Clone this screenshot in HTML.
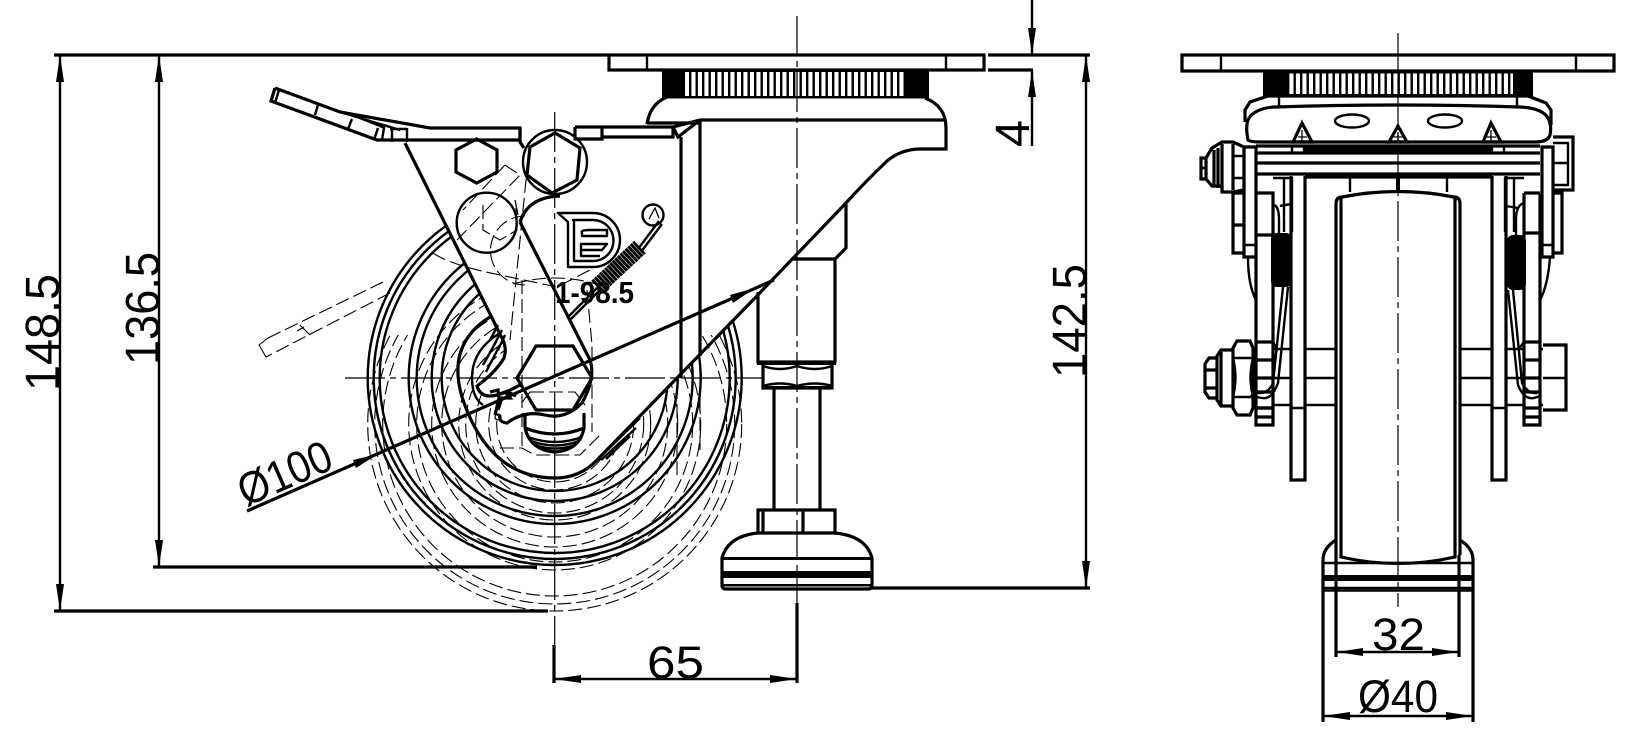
<!DOCTYPE html>
<html><head><meta charset="utf-8"><style>
html,body{margin:0;padding:0;background:#fff;width:1636px;height:746px;overflow:hidden}
svg{display:block}
text{font-family:"Liberation Sans",sans-serif;fill:#000}
.m{fill:none;stroke:#000;stroke-width:2.4;stroke-linejoin:round}
.t{fill:none;stroke:#000;stroke-width:3.2;stroke-linejoin:miter}
.s{fill:none;stroke:#000;stroke-width:1.3}
.d{fill:none;stroke:#000;stroke-width:1.1;stroke-dasharray:14 5}
.c{fill:none;stroke:#000;stroke-width:1.2;stroke-dasharray:40 5 6 5}
.k{fill:#000;stroke:none}
</style></head><body>
<svg width="1636" height="746" viewBox="0 0 1636 746" xmlns="http://www.w3.org/2000/svg">
<defs>
<pattern id="kn" width="6.5" height="10" patternUnits="userSpaceOnUse"><rect width="2.4" height="10" fill="#000"/></pattern>
<clipPath id="cb"><rect x="300" y="335" width="500" height="300"/></clipPath>
<clipPath id="ci"><path clip-rule="evenodd" d="M300 285H800V625H300ZM405 143L503 340L505 357L477 387L500 417L530 465L597 460L753 300L800 250H960V72H405Z"/></clipPath>
</defs>

<!-- wheel solid -->
<g class="m">
<circle cx="554.7" cy="378" r="187"/><circle cx="554.7" cy="378" r="181"/><circle cx="554.7" cy="378" r="175"/>
<circle cx="554.7" cy="378" r="146"/><circle cx="554.7" cy="378" r="138"/><circle cx="554.7" cy="378" r="123"/><circle cx="554.7" cy="378" r="113"/>
</g>
<!-- mask -->
<polygon points="405,143 503,340 505,357 477,387 500,417 530,465 597,460 753,300 800,250 960,250 960,72 405,72" fill="#fff"/>

<!-- hidden lines -->
<g clip-path="url(#cb)">
<circle class="d" cx="554.7" cy="424" r="187"/><circle class="d" cx="554.7" cy="424" r="180"/><circle class="d" cx="554.7" cy="424" r="172"/>
</g>
<g clip-path="url(#ci)">
<circle class="d" cx="554.7" cy="424" r="146"/><circle class="d" cx="554.7" cy="424" r="138"/><circle class="d" cx="554.7" cy="424" r="123"/><circle class="d" cx="554.7" cy="424" r="113"/>
<circle class="d" cx="554.7" cy="424" r="96"/><circle class="d" cx="554.7" cy="424" r="89"/><circle class="d" cx="554.7" cy="424" r="79"/><circle class="d" cx="554.7" cy="424" r="66"/><circle class="d" cx="554.7" cy="424" r="58"/>
</g>
<g class="d">
<path d="M383 282L268 338M390 293L266 357M259 345L266 357M259 345L268 338"/>
<path d="M300 325L310 335M297 331L304 327" stroke-dasharray="none"/>
<path d="M505 165L520 175L457 240M505 165L463 210"/>
<path d="M483 205V230L500 240L517 230L516 208"/>
<path d="M433 253Q450 265 500 275L557 287L590 270"/>
<path d="M522 280V448M587 290L592 345V432"/>
<path d="M525 216A32 32 0 0 0 525 285"/>
<path d="M528 160L510 340M500 448H522L535 455H580L600 435"/>
<path d="M530 392H575L585 405M530 392L520 405"/>
<path d="M677 385V480M700 360V455"/>
</g>
<path class="m" d="M597 460L640 418M601 460L636 428M606 459L630 436"/>

<!-- center lines -->
<path class="c" d="M797 16V603"/>
<path class="c" d="M554.7 112V645"/>
<path class="c" d="M345 378H763"/>

<!-- plate -->
<rect x="609" y="55" width="375" height="15" class="t" fill="#fff"/>
<path class="m" d="M647 55V70M946 55V70"/>
<!-- knurl -->
<rect x="662" y="71" width="267" height="26" fill="url(#kn)"/>
<rect x="662" y="71" width="23" height="26" class="k"/>
<rect x="905" y="71" width="24" height="26" class="k"/>
<rect x="662" y="70" width="267" height="2" class="k"/>
<rect x="662" y="96" width="267" height="2.5" class="k"/>

<!-- head / bracket -->
<path class="t" d="M647 124Q650 104 667 97M925 98Q946 106 946 128V149H918Q900 150 887 161Q865 182 845 204L753 300L597 460"/>
<path class="t" d="M647 123H700M700 120H946"/>
<path class="t" d="M846 204V248L835 259H793"/>
<path class="t" d="M575 127H673V137H602M575 127V139H602V127M673 127L700 120L678 137L673 127"/>
<path class="t" d="M681 137V378M700 120V356"/>

<!-- stem -->
<path class="t" d="M758 292V362H835V259"/>
<rect x="757" y="361" width="79" height="4" class="k"/>
<path class="t" d="M763 365V388H832V365"/>
<path class="m" d="M763 366Q780 372 797 366Q815 372 832 366M763 386Q780 381 797 386Q815 381 832 386"/>
<rect x="762" y="386" width="71" height="3" class="k"/>
<path class="t" d="M774 388V510M820 388V510"/>
<path class="t" d="M758 532V510H835V532M763 510V532M803 510V532"/>
<path class="t" d="M722 558Q728 536 758 533H835Q866 536 872 558V585Q872 589 868 589H726Q722 589 722 585Z" fill="#fff"/>
<rect x="722" y="557" width="150" height="3" class="k"/>
<rect x="722" y="571" width="150" height="7" class="k"/>
<rect x="722" y="584" width="150" height="2.5" class="k"/>

<!-- pedal and arm -->
<path class="t" d="M275 88L271 101L377 140H520V128H430L340 112L275 88"/>
<path class="m" d="M279 90L275 103M318 105L315 115M352 119L348 129"/>
<path class="m" d="M340 112L400 130M350 114L385 128M378 128L374 140M384 128L382 140M392 130V142M407 128V142M390 129H407"/>
<path class="t" d="M405 143L503 340Q507 350 504 358Q495 373 477 386Q480 396 490 396Q500 396 520 385"/>
<path class="t" d="M520 222L590 360Q596 378 582 403Q565 420 545 415Q525 410 507 423Q498 422 500 415"/>
<path class="m" d="M490 340L498 325M494 345L502 330M498 350L505 335M486 372L500 345M483 365L497 340"/>
<path class="t" d="M490 317Q445 345 463 400Q490 478 555 478Q580 478 597 460"/>
<path class="m" d="M500 333Q472 350 472 378Q472 398 483 405"/>
<!-- hexes -->
<polygon class="t" points="476.7,139 497,150 497,172 476.7,183 456,172 456,150"/>
<polygon class="t" points="555,133 580,148 577,180 552,193 527,175 530,147"/>
<circle class="m" cx="555" cy="162" r="32"/>
<circle class="m" cx="486.7" cy="222.7" r="30"/>
<path class="s" d="M458 233A31 31 0 0 0 515 235M515 200L518 215"/>
<path class="t" d="M560 196Q528 197 520 222M520 128L520 142L524 148"/>
<polygon class="t" points="536,346 573,346 592,378 573,410 536,410 517,378"/>
<!-- bolt under hex -->
<path class="t" d="M525 415V428Q530 450 555 452Q580 450 584 428V413M525 428Q555 440 584 428"/>
<path class="m" d="M528 437Q555 447 582 437M531 441Q555 450 579 441M535 445Q555 452 575 445"/>
<path class="t" d="M490 392L498 390L499 398L495 415M497 395L505 392L510 398L502 398L498 410M508 392L516 396"/>
<circle class="s" cx="498" cy="417" r="3"/>

<!-- logo -->
<path class="m" d="M558 213H593A27 27 0 0 1 593 267H568V222Z"/>
<path class="m" d="M573 220H593A20 20 0 0 1 593 261H574V220Z"/>
<path class="m" d="M582 233Q580 230 590 230H607V236H582ZM581 244H607L602 250H581ZM581 250V256H600"/>

<!-- 1-98.5 -->
<text x="555" y="303" font-size="31" font-weight="700" textLength="79" lengthAdjust="spacingAndGlyphs">1-98.5</text>
<!-- spring -->
<path d="M597 287L640 247" stroke="#000" stroke-width="17" fill="none" stroke-dasharray="3 .5"/>
<path class="m" d="M568 317L597 288M571 319L599 291M638 249L659 221M641 252L662 224"/>
<circle class="m" cx="653" cy="215" r="10.5"/>
<path class="s" d="M649 219L655 208L659 218"/>

<!-- dimensions -->
<g class="t" stroke-width="3">
<path d="M54 55H609M988 55H1090M988 70H1033"/>
<path d="M54 611H548M153 567H537M871 588H1090"/>
<path d="M554 645V683M797 603V683M247 511L774 280"/>
</g>
<g class="m">
<path d="M60 55V611M159 55V567M1086 55V588M554 679H797M1032 0V55M1032 70V146"/>
</g>
<g class="k">
<polygon points="60,55 56,82 64,82"/><polygon points="60,611 56,584 64,584"/>
<polygon points="159,55 155,82 163,82"/><polygon points="159,567 155,540 163,540"/>
<polygon points="1086,55 1082,82 1090,82"/><polygon points="1086,588 1082,561 1090,561"/>
<polygon points="554,679 581,675 581,683"/><polygon points="797,679 770,675 770,683"/>
<polygon points="1032,55 1028,28 1036,28"/><polygon points="1032,70 1028,97 1036,97"/>
<polygon points="378,454 353,460 356,468"/><polygon points="755,288 730,295 733,303"/>
</g>
<text transform="translate(59,391) rotate(-90)" font-size="48" textLength="117" lengthAdjust="spacingAndGlyphs">148.5</text>
<text transform="translate(159,365) rotate(-90)" font-size="48" textLength="113" lengthAdjust="spacingAndGlyphs">136.5</text>
<text transform="translate(1086,378) rotate(-90)" font-size="48" textLength="114" lengthAdjust="spacingAndGlyphs">142.5</text>
<text transform="translate(1029,147) rotate(-90)" font-size="48" textLength="27" lengthAdjust="spacingAndGlyphs">4</text>
<text x="647" y="678" font-size="45" textLength="57" lengthAdjust="spacingAndGlyphs">65</text>
<text transform="translate(246,507) rotate(-23.7)" font-size="45" textLength="98" lengthAdjust="spacingAndGlyphs">Ø100</text>

<!-- RIGHT VIEW -->
<rect x="1182" y="55" width="432" height="16" class="t"/>
<path class="m" d="M1221 55V71M1576 55V71"/>
<rect x="1263" y="72" width="270" height="23" fill="url(#kn)"/>
<rect x="1263" y="72" width="24" height="23" class="k"/>
<rect x="1513" y="72" width="20" height="23" class="k"/>
<rect x="1263" y="71" width="270" height="2.5" class="k"/>
<rect x="1263" y="94" width="270" height="2" class="k"/>

<path class="t" d="M1245 122V110L1250 102L1268 96H1528L1546 103L1551 110V125"/>
<path class="m" d="M1279 96V107M1517 96V107"/>
<path class="t" d="M1248 140Q1245 125 1249 118Q1256 108 1275 107Q1398 103 1520 107Q1542 108 1548 118Q1552 125 1550 135Q1548 142 1535 142H1262Q1250 142 1248 140Z"/>
<ellipse class="m" cx="1352" cy="121" rx="17" ry="6.5"/>
<ellipse class="m" cx="1445" cy="121" rx="17" ry="6.5"/>
<path class="t" d="M1293 142L1302 123L1312 142ZM1389 142L1398 126L1407 142ZM1483 142L1491 123L1501 142Z"/>
<path class="s" d="M1302 130V142M1398 132V142M1491 130V142M1298 137H1307M1394 137H1403M1486 137H1496"/>

<!-- bars -->
<rect x="1303" y="146" width="190" height="6" class="k"/>
<path class="t" d="M1256 146H1540M1256 153H1540M1256 163H1540M1256 174H1540"/>
<path class="t" d="M1244 147H1256V257H1244ZM1542 147H1553V257H1542Z"/>
<path class="m" d="M1244 245H1256M1542 245H1553M1292 146V152M1304 146V152M1492 146V152M1504 146V152"/>
<path class="t" d="M1291 176V480H1305V176M1492 176V480H1506V176M1305 177H1492"/>
<path class="m" d="M1291 408H1305M1492 408H1506"/>
<path class="m" d="M1350 178V192M1447 178V192"/>
<rect x="1396" y="178" width="4" height="14" class="k"/>

<!-- left upper -->
<path class="t" d="M1206 158H1201V179H1206L1212 186H1222V192H1233L1244 190V147L1233 142H1222L1212 148Z"/>
<path class="t" d="M1206 159V178M1214 150V185M1218 148V188M1222 144V190M1233 144V190"/>
<path class="m" d="M1201 168H1206M1233 156H1244M1233 178H1244"/>
<path class="t" d="M1233 193H1244M1233 193V253H1244M1233 225H1244"/>
<path class="t" d="M1256 193H1273V233M1256 235H1273"/>
<path class="t" d="M1256 257V425H1273V233M1256 342H1273M1256 360H1273M1256 378H1273M1256 392H1273M1256 408H1273"/>
<path class="m" d="M1284 177V232M1292 177V232M1273 178H1292"/>
<path class="m" d="M1273 205Q1279 205 1279 220V240M1280 206Q1285 205 1292 204"/>
<rect x="1271" y="233" width="21" height="54" rx="6" class="k"/>
<path class="m" d="M1288 287L1278 383Q1272 400 1262 398L1250 396M1283 287L1273 383Q1268 394 1258 393"/>
<path class="m" d="M1248 257Q1248 285 1256 300"/>
<path class="m" d="M1273 342L1278 350"/>
<!-- left lower bolt -->
<path class="t" d="M1237 341H1250L1253 348V408L1250 415H1237L1233 408V348Z"/>
<path class="m" d="M1233 358Q1238 378 1233 397M1253 358Q1248 378 1253 397M1233 358H1253M1233 397H1253"/>
<path class="t" d="M1233 350H1221L1217 356V400L1221 406H1233M1221 352V405"/>
<path class="t" d="M1217 358H1209L1205 364V392L1209 398H1217M1205 370H1217M1205 388H1217"/>
<path class="t" d="M1256 408H1273M1257 417H1273"/>

<!-- right upper -->
<path class="t" d="M1553 137H1573V190H1553"/>
<path class="m" d="M1553 143H1568V185H1553M1553 163H1568"/>
<path class="t" d="M1553 193H1562V253H1553M1524 193H1540M1524 193V425H1540V193M1524 233H1540M1524 342H1540M1524 360H1540M1524 378H1540M1524 392H1540M1524 408H1540M1524 417H1540"/>
<path class="m" d="M1505 177V232M1514 177V232M1505 178H1524"/>
<path class="m" d="M1524 203Q1516 205 1516 220V235M1506 206L1518 208"/>
<rect x="1507" y="235" width="19" height="55" rx="6" class="k"/>
<path class="m" d="M1508 290L1518 385Q1524 400 1534 398L1540 396M1513 290L1522 383Q1528 394 1537 393"/>
<path class="m" d="M1550 257Q1548 285 1540 300M1524 342L1518 350"/>
<path class="t" d="M1543 345H1566V410H1543"/>
<path class="m" d="M1543 378H1566"/>

<!-- axle -->
<path class="m" d="M1273 349H1291M1305 349H1336M1460 349H1492M1506 349H1524M1540 349H1543M1273 378H1291M1305 378H1336M1460 378H1492M1506 378H1524M1273 405H1291M1305 405H1336M1460 405H1492M1506 405H1524M1540 405H1543"/>

<!-- wheel right -->
<path class="t" d="M1336 555V204Q1336 197 1342 197Q1398 186 1454 197Q1460 197 1460 204V555"/>
<path class="t" d="M1341 198V557Q1398 570 1455 557V198"/>
<!-- centre -->
<path class="c" d="M1398 33V607" stroke-dasharray="170 8 14 8 30 8 14 8 30 8 14 8 30 8 14 8 30 8 14 8"/>
<!-- foot -->
<path class="t" d="M1336 540Q1323 548 1323 560V722M1460 540Q1473 548 1473 560V722M1336 555V657M1459 555V657"/>
<path class="m" d="M1323 563H1473M1323 588H1473"/>
<rect x="1323" y="575" width="150" height="6" class="k"/>
<path class="m" d="M1323 590.5H1473"/>
<!-- dims right -->
<path class="m" d="M1337 652H1458M1323 716H1473"/>
<g class="k">
<polygon points="1337,652 1363,648 1363,656"/><polygon points="1458,652 1432,648 1432,656"/>
<polygon points="1323,716 1350,712 1350,720"/><polygon points="1473,716 1446,712 1446,720"/>
</g>
<text x="1372" y="650" font-size="45" textLength="53" lengthAdjust="spacingAndGlyphs">32</text>
<text x="1358" y="712" font-size="45" textLength="80" lengthAdjust="spacingAndGlyphs">Ø40</text>
</svg>
</body></html>
